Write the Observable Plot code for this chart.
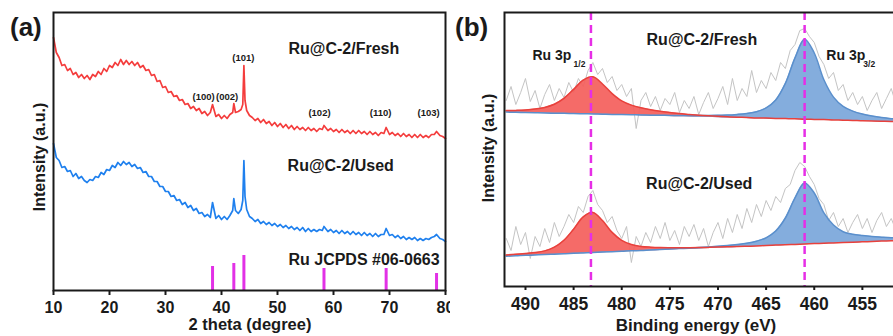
<!DOCTYPE html>
<html><head><meta charset="utf-8">
<script src="https://cdn.jsdelivr.net/npm/d3@7"></script>
<script src="https://cdn.jsdelivr.net/npm/@observablehq/plot@0.6"></script>
<style>
html,body{margin:0;padding:0;background:#fff;}
#wrap{position:relative;width:893px;height:336px;overflow:hidden;font-family:"Liberation Sans",Arial,sans-serif;font-weight:bold;color:#1a1a1a;}
.panel{position:absolute;top:0;height:336px;overflow:hidden;}
.lbl{position:absolute;white-space:nowrap;line-height:1;}
</style></head><body>
<div id="wrap">
  <div id="pa" class="panel" style="left:0;width:450px"></div>
  <div id="pb" class="panel" style="left:450px;width:460px"></div>
  <div class="lbl" style="left:10px;top:14px;font-size:26px">(a)</div>
  <div class="lbl" style="left:455px;top:14px;font-size:26px">(b)</div>
  <div class="lbl" style="left:40px;top:157px;font-size:16px;transform:translate(-50%,-50%) rotate(-90deg)">Intensity (a.u.)</div>
  <div class="lbl" style="left:489px;top:148px;font-size:16px;transform:translate(-50%,-50%) rotate(-90deg)">Intensity (a.u.)</div>
  <div class="lbl" style="left:250px;top:316px;font-size:16.5px;transform:translateX(-50%)">2 theta (degree)</div>
  <div class="lbl" style="left:696px;top:317px;font-size:17px;transform:translateX(-50%)">Binding energy (eV)</div>
</div>
<script>
// ---------- (a) XRD ----------
const xrdAngle = [10,10.5,11,11.5,12,12.5,13,13.5,14,14.5,
15,15.5,16,16.5,17,17.5,18,18.5,19,19.5,
20,20.5,21,21.5,22,22.5,23,23.5,24,24.5,
25,25.5,26,26.5,27,27.5,28,28.5,29,29.5,
30,30.5,31,31.5,32,32.5,33,33.5,34,34.5,
35,35.5,36,36.5,37,37.5,38,38.4,39,39.5,
40,40.5,41,41.5,42,42.2,42.5,43,43.5,43.8,
44,44.2,44.5,45,45.5,46,46.5,47,47.5,48,
48.5,49,49.5,50,50.5,51,51.5,52,52.5,53,
53.5,54,54.5,55,55.5,56,56.5,57,57.5,58,
58.3,59,59.5,60,60.5,61,61.5,62,62.5,63,
63.5,64,64.5,65,65.5,66,66.5,67,67.5,68,
68.5,69,69.4,70,70.5,71,71.5,72,72.5,73,
73.5,74,74.5,75,75.5,76,76.5,77,77.5,78,
78.4,79,79.5,80];
const freshIntensity = [253,238,233,225,226,220,222,216,218,213,
216,212,215,211,216,214,219,216,222,219,
225,223,228,225,231,226,230,226,229,225,
228,223,225,220,221,215,216,209,210,203,
204,198,199,194,195,190,191,186,187,182,
184,180,182,177,179,175,178,186,174,176,
172,175,172,176,178,187,178,179,181,186,
225,190,180,175,173,170,172,168,171,167,
169,165,168,164,167,163,166,162,165,161,
164,161,163,160,163,160,162,159,162,161,
165,160,162,159,161,158,161,158,160,157,
160,157,160,157,159,156,159,156,158,155,
158,157,163,156,158,155,157,154,157,154,
156,153,156,153,156,153,155,153,156,156,
159,155,154,152];
const usedIntensity = [147,133,130,123,124,119,120,114,117,112,
114,110,108,111,110,114,113,118,116,121,
120,125,123,128,125,129,126,128,124,126,
122,123,118,119,114,114,109,109,104,104,
99,99,94,95,90,91,86,88,83,85,
80,82,77,78,74,76,73,88,72,75,
71,74,71,75,80,92,80,77,81,90,
130,94,81,74,72,69,71,67,69,66,
68,65,67,64,66,63,65,62,64,61,
63,60,63,59,62,59,61,59,61,60,
64,59,61,58,60,57,60,57,59,56,
59,56,58,55,58,55,57,54,57,54,
56,56,62,55,56,53,55,52,54,51,
53,51,53,50,52,50,52,51,53,54,
56,52,51,49];
const refAngle = [38.4,42.2,44.0,58.3,69.4,78.4];
const refIntensity = [24,27,35,22,22,17];
const xrdTicks = [10,20,30,40,50,60,70,80];
const hklText = ["(100)","(002)","(101)","(102)","(110)","(103)"];
const hklAngle = [36.8,41.0,43.9,57.5,68.4,77.0];
const hklLevel = [194,194,233,178,178,178];
const xrdNames = ["Ru@C-2/Fresh","Ru@C-2/Used","Ru JCPDS #06-0663"];
const xrdNameAt = [[51.96,242],[51.8,125],[51.96,31]];

// ---------- (b) XPS ----------
const xpsEnergy = [492,491.5,491,490.5,490,489.5,489,488.5,488,487.5,
487,486.5,486,485.5,485,484.5,484,483.5,483,482.5,
482,481.5,481,480.5,480,479.5,479,478.5,478,477.5,
477,476.5,476,475.5,475,474.5,474,473.5,473,472.5,
472,471.5,471,470.5,470,469.5,469,468.5,468,467.5,
467,466.5,466,465.5,465,464.5,464,463.5,463,462.5,
462,461.5,461,460.5,460,459.5,459,458.5,458,457.5,
457,456.5,456,455.5,455,454.5,454,453.5,453,452.5,
452,451.5,451,450.5,450];
const freshRaw = [186,200,182,194,208,185,196,178,192,202,
186,198,189,204,194,208,200,216,224,212,
218,204,210,196,202,190,198,158,186,194,
180,190,176,188,182,194,174,186,178,190,
172,184,194,178,188,200,182,208,186,198,
190,216,194,206,198,214,206,224,218,236,
242,256,258,250,244,230,222,208,214,196,
202,186,194,182,190,176,186,194,178,188,
198,182,190,176,186];
const usedRaw = [48,36,60,42,54,28,50,40,58,44,
64,50,60,72,64,80,74,90,96,82,
76,64,70,56,48,60,24,50,40,54,
44,60,48,64,46,56,42,60,50,62,
46,58,40,54,64,48,68,54,72,58,
78,64,82,70,86,76,90,84,98,102,
116,124,120,110,102,88,82,66,74,60,
68,54,64,72,58,68,54,66,74,60,
68,56,66,58,70];
const fitEnergy = [492,491,490,489,488,487,486,485,484,483,482,481,480,479,478,477,476,475,474,473,472,471,470,469,468,467,466,465,464,463,462,461,460,459,458,457,456,455,454,453,452,451,450];
const freshBase = [174.0,173.8,173.5,173.3,173.0,172.8,172.6,172.3,172.1,171.9,171.6,171.4,171.1,170.9,170.7,170.4,170.2,170.0,169.7,169.5,169.2,169.0,168.8,168.5,168.3,168.1,167.8,167.6,167.3,167.1,166.9,166.6,166.4,166.2,165.9,165.7,165.4,165.2,165.0,164.7,164.5,164.3,164.0];
const freshP12 = [175.9,176.1,176.5,177.4,179.1,182.3,188.2,197.1,206.4,209.7,202.5,192.9,185.6,181.4,178.7,176.7,175.2,174.0,172.9,172.1,171.3,170.7,170.2,169.7,169.3,169.0,168.6,168.4,168.1,167.9,167.7,167.3,167.1,166.9,166.5,166.3,166.0,165.8,165.5,165.2,165.0,164.8,164.5];
const freshP32 = [174.4,174.2,174.0,173.8,173.5,173.3,173.2,172.9,172.7,172.6,172.3,172.1,171.9,171.7,171.6,171.3,171.2,171.1,170.9,170.9,170.9,171.0,171.2,171.4,172.1,173.1,174.8,178.6,186.6,203.1,228.6,247.3,233.5,206.7,189.4,180.2,175.4,172.4,170.4,168.9,167.8,167.0,166.2];
const usedBase = [30.0,30.4,30.8,31.1,31.5,31.9,32.3,32.7,33.0,33.4,33.8,34.2,34.6,35.0,35.3,35.7,36.1,36.5,36.9,37.2,37.6,38.0,38.4,38.8,39.1,39.5,39.9,40.3,40.7,41.0,41.4,41.8,42.2,42.6,43.0,43.3,43.7,44.1,44.5,44.9,45.2,45.6,46.0];
const usedP12 = [31.5,32.2,33.0,33.9,35.6,39.3,46.2,57.3,69.6,74.1,65.9,54.1,46.1,42.0,40.1,39.3,38.9,38.8,38.8,38.8,38.9,39.1,39.4,39.7,39.9,40.2,40.6,41.0,41.4,41.7,42.1,42.5,42.9,43.2,43.6,43.9,44.3,44.7,45.0,45.4,45.7,46.1,46.5];
const usedP32 = [30.3,30.7,31.2,31.5,31.9,32.3,32.8,33.2,33.5,33.9,34.4,34.8,35.2,35.7,36.0,36.5,36.9,37.4,37.9,38.3,38.9,39.5,40.2,41.0,42.0,43.3,45.3,48.7,55.5,68.5,88.6,103.6,93.5,73.6,61.5,54.8,52.2,50.9,49.9,49.3,48.8,48.6,48.5];
const peakCenters = [483.2,461.0];
const xpsTicks = [490,485,480,475,470,465,460,455];
const xpsNames = ["Ru@C-2/Fresh","Ru@C-2/Used"];
const xpsNameAt = [[471.67,247],[471.95,103]];
const orbitalMain = ["Ru 3p","Ru 3p"];
const orbitalSub = ["1/2","3/2"];
const orbitalAt = [[489.27,230.5,485.0,222],[458.74,230.5,454.9,222]];

// ---------- build tables ----------
const FONT = "Liberation Sans, Arial, sans-serif";
const xrdFresh = xrdAngle.map((a,i)=>({a, v:freshIntensity[i]}));
const xrdUsed = xrdAngle.map((a,i)=>({a, v:usedIntensity[i]}));
const refs = refAngle.map((a,i)=>({a, v:refIntensity[i]}));
const hkl = hklText.map((t,i)=>({t, a:hklAngle[i], v:hklLevel[i]}));
const xrdLab = xrdNames.map((t,i)=>({t, a:xrdNameAt[i][0], v:xrdNameAt[i][1]}));

const pa = Plot.plot({
  width:450, height:336, marginLeft:53, marginRight:5, marginTop:12, marginBottom:46,
  style:{fontFamily:FONT, fontWeight:"bold", color:"#1a1a1a", background:"white"},
  x:{domain:[10,80]},
  y:{domain:[0,278], axis:null},
  marks:[
    Plot.line(xrdFresh,{x:"a",y:"v",stroke:"#f43d3d",strokeWidth:1.7}),
    Plot.line(xrdUsed,{x:"a",y:"v",stroke:"#1f80ee",strokeWidth:1.7}),
    Plot.ruleX(refs,{x:"a",y1:0,y2:"v",stroke:"#e231e6",strokeWidth:3}),
    Plot.text(hkl,{x:"a",y:"v",text:"t",fontSize:9.5,fontWeight:"bold",fill:"#1a1a1a"}),
    Plot.text(xrdLab,{x:"a",y:"v",text:"t",textAnchor:"start",fontSize:16,fontWeight:"bold",fill:"#1a1a1a"}),
    Plot.frame({stroke:"#1a1a1a",strokeWidth:2}),
    Plot.axisX({ticks:xrdTicks,tickSize:5,tickPadding:6,fontSize:16,fontWeight:"bold",strokeWidth:2,label:null})
  ]
});
document.getElementById("pa").appendChild(pa);

const rawF = xpsEnergy.map((e,i)=>({e, v:freshRaw[i]}));
const rawU = xpsEnergy.map((e,i)=>({e, v:usedRaw[i]}));
const fitF = fitEnergy.map((e,i)=>({e, b:freshBase[i], r:freshP12[i], s:freshP32[i]}));
const fitU = fitEnergy.map((e,i)=>({e, b:usedBase[i], r:usedP12[i], s:usedP32[i]}));
const xpsLab = xpsNames.map((t,i)=>({t, e:xpsNameAt[i][0], v:xpsNameAt[i][1]}));
const orbMain = orbitalMain.map((t,i)=>({t, e:orbitalAt[i][0], v:orbitalAt[i][1]}));
const orbSub = orbitalSub.map((t,i)=>({t, e:orbitalAt[i][2], v:orbitalAt[i][3]}));

const RED_FILL = "#f45e5b", RED_LINE = "#e8413c", BLUE_FILL = "#7aa6da", BLUE_LINE = "#5a8fcc";
const fitMarks = (d)=>[
  Plot.areaY(d,{x:"e",y1:"b",y2:"r",fill:RED_FILL,fillOpacity:0.92,curve:"catmull-rom"}),
  Plot.areaY(d,{x:"e",y1:"b",y2:"s",fill:BLUE_FILL,fillOpacity:0.92,curve:"catmull-rom"}),
  Plot.line(d,{x:"e",y:"s",stroke:BLUE_LINE,strokeWidth:1.5,curve:"catmull-rom"}),
  Plot.line(d,{x:"e",y:"r",stroke:RED_LINE,strokeWidth:1.5,curve:"catmull-rom"})
];

const pb = Plot.plot({
  width:460, height:336, marginLeft:54, marginRight:0, marginTop:12, marginBottom:50,
  style:{fontFamily:FONT, fontWeight:"bold", color:"#1a1a1a", background:"white"},
  x:{domain:[492.18,450]},
  y:{domain:[0,274], axis:null},
  marks:[
    Plot.line(rawF,{x:"e",y:"v",stroke:"#c4c4c4",strokeWidth:1}),
    Plot.line(rawU,{x:"e",y:"v",stroke:"#c4c4c4",strokeWidth:1}),
    ...fitMarks(fitF),
    ...fitMarks(fitU),
    Plot.ruleX(peakCenters,{stroke:"#e62ee6",strokeWidth:2.5,strokeDasharray:"8,5"}),
    Plot.text(xpsLab,{x:"e",y:"v",text:"t",fontSize:16,fontWeight:"bold",fill:"#1a1a1a"}),
    Plot.text(orbMain,{x:"e",y:"v",text:"t",textAnchor:"start",fontSize:14,fontWeight:"bold",fill:"#1a1a1a"}),
    Plot.text(orbSub,{x:"e",y:"v",text:"t",textAnchor:"start",fontSize:8.5,fontWeight:"bold",fill:"#1a1a1a"}),
    Plot.frame({stroke:"#1a1a1a",strokeWidth:2}),
    Plot.axisX({ticks:xpsTicks,tickSize:4,tickPadding:7,fontSize:17.5,fontWeight:"bold",strokeWidth:2,label:null})
  ]
});
document.getElementById("pb").appendChild(pb);
</script>
</body></html>
